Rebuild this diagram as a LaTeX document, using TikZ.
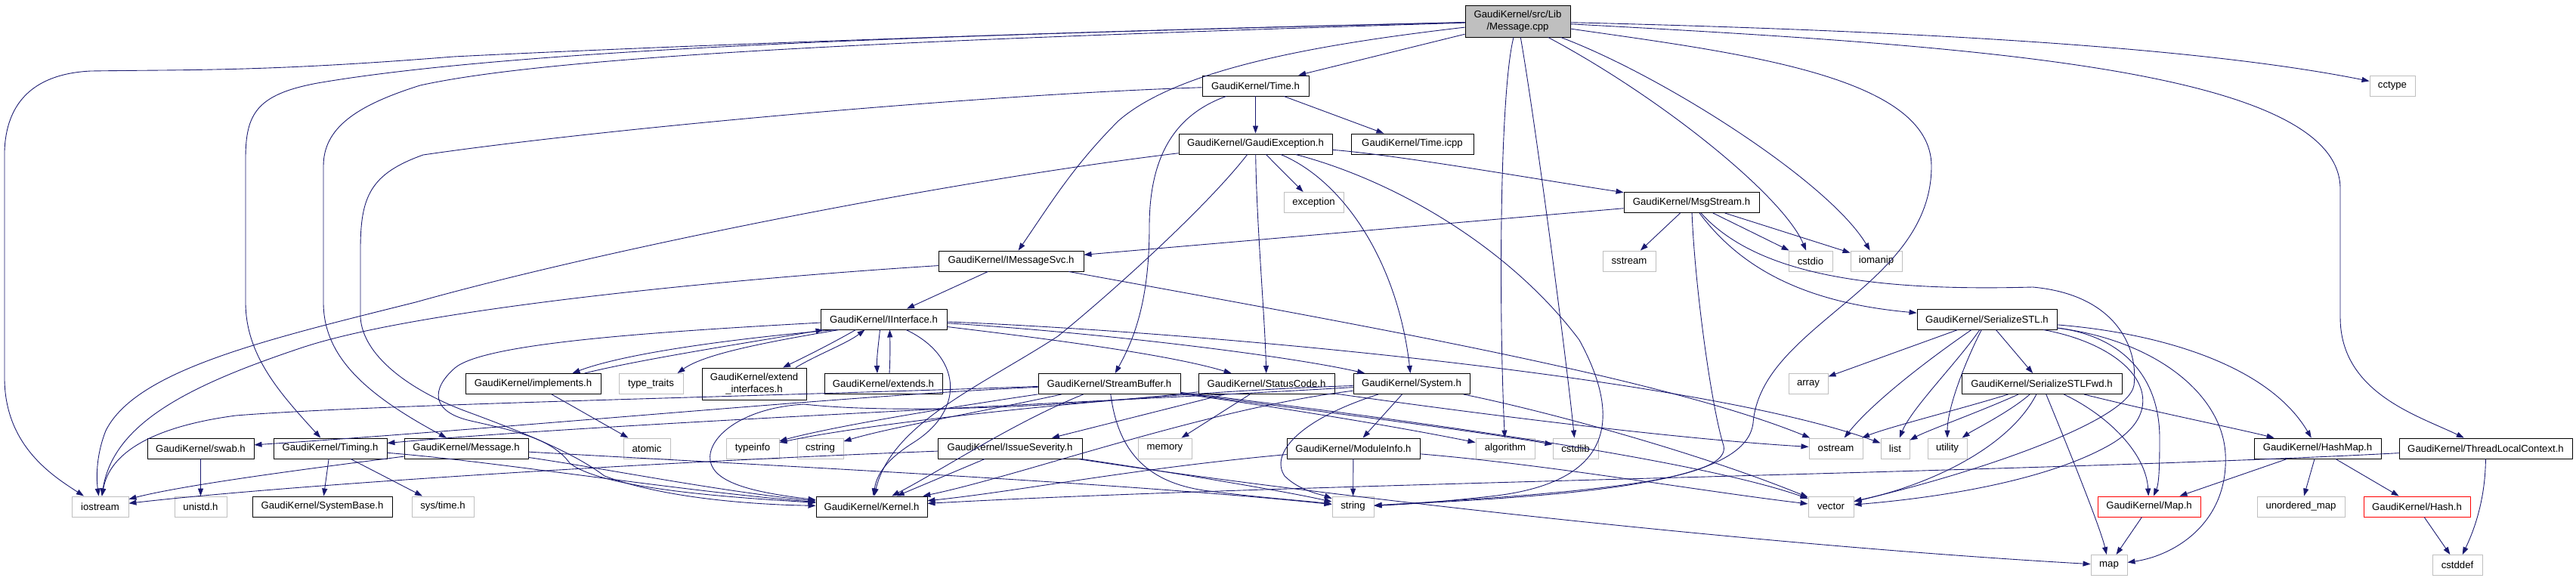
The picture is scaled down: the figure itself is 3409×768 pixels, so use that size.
\documentclass[tikz,border=0pt]{standalone}
\usepackage{fontspec}
\newfontfamily\gfont{Liberation Sans}
\usetikzlibrary{arrows.meta,calc}
\definecolor{edgecol}{RGB}{25,25,112}
\definecolor{graybd}{RGB}{191,191,191}
\definecolor{rootfill}{RGB}{191,191,191}
\begin{document}
\begin{tikzpicture}[x=0.02cm,y=-0.02cm,
  nb/.style={draw=black, line width=0.55pt, fill=white, inner sep=0pt, minimum height=0.54cm,
     font=\gfont\fontsize{7.5}{9}\selectfont, align=center, text=black},
  ng/.style={nb, draw=graybd},
  nr/.style={nb, draw=red},
  nroot/.style={nb, fill=rootfill, minimum height=0.84cm},
  e/.style={draw=edgecol, line width=0.5pt, -{Triangle[length=0.2cm,width=0.14cm]}}]
\useasboundingbox[fill=white] (0,0) rectangle (3409,768);
% ---------------- nodes ----------------
\node[nroot, minimum width=2.78cm] (root) at (2008.5,28) {GaudiKernel/src/Lib\\/Message.cpp};
\node[nb, minimum width=2.82cm] (timeh) at (1661.5,113.5) {GaudiKernel/Time.h};
\node[ng, minimum width=1.2cm] (cctype) at (3166,113.5) {cctype};
\node[nb, minimum width=4.06cm] (gexc) at (1661.5,190.5) {GaudiKernel/GaudiException.h};
\node[nb, minimum width=3.24cm] (ticpp) at (1869,190.5) {GaudiKernel/Time.icpp};
\node[ng, minimum width=1.58cm] (exception) at (1738.5,268) {exception};
\node[nb, minimum width=3.58cm] (msgstream) at (2238.5,268) {GaudiKernel/MsgStream.h};
\node[nb, minimum width=3.84cm] (imsgsvc) at (1338,345.5) {GaudiKernel/IMessageSvc.h};
\node[ng, minimum width=1.4cm] (sstream) at (2156,345.5) {sstream};
\node[ng, minimum width=1.16cm] (cstdio) at (2396,345.5) {cstdio};
\node[ng, minimum width=1.36cm] (iomanip) at (2483,345.5) {iomanip};
\node[nb, minimum width=3.34cm] (iint) at (1169.5,422.5) {GaudiKernel/IInterface.h};
\node[nb, minimum width=3.7cm] (sstl) at (2629.5,422.5) {GaudiKernel/SerializeSTL.h};
\node[nb, minimum width=3.58cm] (impl) at (705.5,508) {GaudiKernel/implements.h};
\node[ng, minimum width=1.7cm] (typetraits) at (861.5,508) {type\_traits};
\node[nb, minimum width=2.76cm, minimum height=0.84cm] (extif) at (998,508) {GaudiKernel/extend\\\_interfaces.h};
\node[nb, minimum width=3.12cm] (extends) at (1169,508) {GaudiKernel/extends.h};
\node[nb, minimum width=3.76cm] (sbuf) at (1468,508) {GaudiKernel/StreamBuffer.h};
\node[nb, minimum width=3.6cm] (scode) at (1676,508) {GaudiKernel/StatusCode.h};
\node[nb, minimum width=3.08cm] (system) at (1868,508) {GaudiKernel/System.h};
\node[ng, minimum width=1.04cm] (array) at (2393,508) {array};
\node[nb, minimum width=4.24cm] (sstlfwd) at (2702,508) {GaudiKernel/SerializeSTLFwd.h};
\node[nb, minimum width=2.82cm] (swab) at (265.5,593.5) {GaudiKernel/swab.h};
\node[nb, minimum width=3.0cm] (timing) at (437,593.5) {GaudiKernel/Timing.h};
\node[nb, minimum width=3.28cm] (message) at (617,593.5) {GaudiKernel/Message.h};
\node[ng, minimum width=1.24cm] (atomic) at (856,593.5) {atomic};
\node[ng, minimum width=1.4cm] (typeinfo) at (996,593.5) {typeinfo};
\node[ng, minimum width=1.22cm] (cstring) at (1085.5,593.5) {cstring};
\node[nb, minimum width=3.82cm] (issue) at (1336.5,593.5) {GaudiKernel/IssueSeverity.h};
\node[ng, minimum width=1.42cm] (memory) at (1541.5,593.5) {memory};
\node[nb, minimum width=3.52cm] (modinfo) at (1791,593.5) {GaudiKernel/ModuleInfo.h};
\node[ng, minimum width=1.56cm] (algorithm) at (1992,593.5) {algorithm};
\node[ng, minimum width=1.2cm] (cstdlib) at (2085,593.5) {cstdlib};
\node[ng, minimum width=1.42cm] (ostream) at (2429.5,593.5) {ostream};
\node[ng, minimum width=0.76cm] (list) at (2508,593.5) {list};
\node[ng, minimum width=1.04cm] (utility) at (2577,593.5) {utility};
\node[nb, minimum width=3.36cm] (hashmap) at (3067,593.5) {GaudiKernel/HashMap.h};
\node[nb, minimum width=4.58cm] (tlc) at (3289.5,593.5) {GaudiKernel/ThreadLocalContext.h};
\node[ng, minimum width=1.5cm] (iostream) at (132.5,670.5) {iostream};
\node[ng, minimum width=1.38cm] (unistd) at (265.5,670.5) {unistd.h};
\node[nb, minimum width=3.7cm] (sysbase) at (426.5,670.5) {GaudiKernel/SystemBase.h};
\node[ng, minimum width=1.64cm] (systime) at (586,670.5) {sys/time.h};
\node[nb, minimum width=2.94cm] (kernel) at (1153.5,670.5) {GaudiKernel/Kernel.h};
\node[ng, minimum width=1.1cm] (string) at (1790.5,670.5) {string};
\node[ng, minimum width=1.2cm] (vector) at (2423,670.5) {vector};
\node[nr, minimum width=2.72cm] (maph) at (2844,670.5) {GaudiKernel/Map.h};
\node[ng, minimum width=2.32cm] (umap) at (3045,670.5) {unordered\_map};
\node[nr, minimum width=2.82cm] (hashh) at (3198.5,670.5) {GaudiKernel/Hash.h};
\node[ng, minimum width=0.96cm] (map) at (2791,748) {map};
\node[ng, minimum width=1.32cm] (cstddef) at (3252,748) {cstddef};
% ---------------- edges ----------------
% root
\draw[e] (root) .. controls (1400,42) and (900,60) .. (600,75) .. controls (350,95) and (250,92) .. (120,94) .. controls (40,98) and (8,140) .. (6,200) -- (6,500) .. controls (6,590) and (70,630) .. (iostream);
\draw[e] (root) .. controls (1300,45) and (700,62) .. (420,110) .. controls (340,125) and (325,150) .. (325,210) -- (325,400) .. controls (325,470) and (370,520) .. (timing);
\draw[e] (root) .. controls (1300,50) and (750,70) .. (556,113) .. controls (470,140) and (428,170) .. (428,220) -- (428,400) .. controls (428,470) and (480,520) .. (message);
\draw[e] (root) .. controls (1750,58) and (1560,90) .. (1480,160) .. controls (1420,220) and (1390,270) .. (imsgsvc);
\draw[e] (root) -- (timeh);
\draw[e] (root) .. controls (1985,120) and (1983,400) .. (algorithm);
\draw[e] (root) .. controls (2030,150) and (2070,450) .. (cstdlib);
\draw[e] (root) .. controls (2200,130) and (2360,260) .. (cstdio);
\draw[e] (root) .. controls (2200,100) and (2420,240) .. (iomanip);
\draw[e] (root) .. controls (2300,70) and (2556,100) .. (2556,220) .. controls (2556,380) and (2330,430) .. (2320,560) .. controls (2310,640) and (2100,655) .. (string);
\draw[e] (root) .. controls (2500,40) and (2900,60) .. (cctype);
\draw[e] (root) .. controls (2600,60) and (3097,90) .. (3097,250) -- (3097,420) .. controls (3097,520) and (3200,550) .. (tlc);
% Time.h
\draw[e] (timeh) -- (gexc);
\draw[e] (timeh) -- (ticpp);
\draw[e] (timeh) .. controls (1300,125) and (800,170) .. (560,205) .. controls (490,230) and (477,260) .. (477,330) -- (477,420) .. controls (480,470) and (540,515) .. (613,543) .. controls (700,575) and (760,600) .. (800,630) .. controls (880,660) and (1000,668) .. (kernel);
\draw[e] (timeh) .. controls (1560,150) and (1521,200) .. (1521,300) .. controls (1521,400) and (1500,450) .. (sbuf);
% GaudiException.h
\draw[e] (gexc) .. controls (1250,240) and (800,330) .. (550,400) .. controls (350,450) and (180,490) .. (140,570) .. controls (128,600) and (127,630) .. (iostream);
\draw[e] (gexc) -- (exception);
\draw[e] (gexc) .. controls (1663,300) and (1674,420) .. (scode);
\draw[e] (gexc) .. controls (1780,240) and (1850,350) .. (system);
\draw[e] (gexc) .. controls (1850,240) and (2000,330) .. (2090,450) .. controls (2150,560) and (2130,640) .. (1972,657) .. controls (1900,665) and (1850,668) .. (string);
\draw[e] (gexc) .. controls (1850,205) and (2050,240) .. (msgstream);
\draw[e] (gexc) .. controls (1600,270) and (1480,380) .. (1400,445) .. controls (1300,510) and (1180,560) .. (kernel);
% MsgStream.h
\draw[e] (msgstream) -- (imsgsvc);
\draw[e] (msgstream) -- (sstream);
\draw[e] (msgstream) -- (cstdio);
\draw[e] (msgstream) -- (iomanip);
\draw[e] (msgstream) .. controls (2243,380) and (2265,540) .. (2281,590) .. controls (2290,630) and (2150,650) .. (string);
\draw[e] (msgstream) .. controls (2300,350) and (2380,400) .. (sstl);
\draw[e] (msgstream) .. controls (2330,370) and (2500,385) .. (2690,380) .. controls (2800,390) and (2830,460) .. (2824,510) .. controls (2815,560) and (2600,630) .. (vector);
% IMessageSvc.h
\draw[e] (imsgsvc) -- (iint);
\draw[e] (imsgsvc) .. controls (950,370) and (550,410) .. (400,460) .. controls (250,510) and (150,560) .. (iostream);
\draw[e] (imsgsvc) .. controls (1800,430) and (2200,500) .. (ostream);
% IInterface.h
\draw[e] ($(iint.south west)+(20,0)$) .. controls (950,450) and (820,470) .. ($(impl.north)+(52,0)$);
\draw[e] ($(impl.north)+(68,0)$) .. controls (850,475) and (1000,452) .. ($(iint.south west)+(4,0)$);
\draw[e] ($(iint.south west)+(25,0)$) .. controls (1000,455) and (930,470) .. ($(typetraits.north)+(35,0)$);
\draw[e] ($(iint.south)+(-37,0)$) .. controls (1100,455) and (1070,470) .. ($(extif.north)+(38,0)$);
\draw[e] ($(extif.north)+(55,0)$) .. controls (1080,470) and (1120,455) .. ($(iint.south)+(-25,0)$);
\draw[e] ($(iint.south)+(-5,0)$) .. controls (1162,460) and (1160,475) .. ($(extends.north)+(-8,0)$);
\draw[e] ($(extends.north)+(8,0)$) .. controls (1178,475) and (1178,460) .. ($(iint.south)+(8,0)$);
\draw[e] (iint) .. controls (1270,470) and (1280,540) .. (1210,585) .. controls (1170,610) and (1160,630) .. (kernel);
\draw[e] (iint) .. controls (850,440) and (640,455) .. (602,487) .. controls (570,515) and (570,545) .. (623,557) .. controls (680,570) and (730,580) .. (754,613) .. controls (800,650) and (1000,660) .. (kernel);
\draw[e] (iint) .. controls (1400,450) and (1550,470) .. (scode);
\draw[e] (iint) .. controls (1450,440) and (1700,470) .. (system);
\draw[e] (iint) .. controls (1600,440) and (2250,500) .. (list);
% StreamBuffer.h
\draw[e] (sbuf) .. controls (1100,525) and (700,565) .. (swab);
\draw[e] (sbuf) .. controls (1000,525) and (500,535) .. (312,550) .. controls (200,565) and (145,600) .. (iostream);
\draw[e] (sbuf) .. controls (1250,540) and (1100,565) .. (typeinfo);
\draw[e] (sbuf) .. controls (1300,545) and (1180,565) .. (cstring);
\draw[e] (sbuf) .. controls (1480,600) and (1520,640) .. (1600,650) .. controls (1680,660) and (1720,662) .. (string);
\draw[e] (sbuf) .. controls (1700,540) and (1850,565) .. (algorithm);
\draw[e] (sbuf) .. controls (1750,545) and (1950,570) .. (cstdlib);
\draw[e] (sbuf) .. controls (1900,560) and (2250,610) .. (vector);
\draw[e] (sbuf) .. controls (1340,560) and (1250,620) .. (kernel);
% StatusCode.h
\draw[e] (scode) -- (issue);
\draw[e] (scode) -- (memory);
\draw[e] (scode) .. controls (1900,540) and (2200,580) .. (ostream);
\draw[e] (scode) .. controls (1450,535) and (1200,550) .. (1064,535) .. controls (980,540) and (935,580) .. (940,610) .. controls (945,640) and (1000,652) .. (kernel);
% System.h
\draw[e] (system) .. controls (1500,530) and (800,560) .. (timing);
\draw[e] (system) .. controls (1600,540) and (1350,630) .. (kernel);
\draw[e] (system) .. controls (1500,520) and (1150,560) .. (typeinfo);
\draw[e] (system) -- (modinfo);
\draw[e] (system) .. controls (1720,555) and (1680,600) .. (1700,630) .. controls (1720,650) and (1750,655) .. (string);
\draw[e] (system) .. controls (2050,545) and (2250,600) .. (vector);
% ModuleInfo.h
\draw[e] (modinfo) -- (string);
\draw[e] (modinfo) .. controls (1500,620) and (1350,650) .. (kernel);
\draw[e] (modinfo) .. controls (2050,615) and (2250,650) .. (vector);
% IssueSeverity.h
\draw[e] (issue) -- (kernel);
\draw[e] (issue) .. controls (1550,625) and (1700,650) .. (string);
\draw[e] (issue) .. controls (1700,650) and (2300,720) .. (map);
\draw[e] (issue) .. controls (900,610) and (400,640) .. (iostream);
% Message.h
\draw[e] (message) .. controls (800,620) and (950,650) .. (kernel);
\draw[e] (message) .. controls (1000,615) and (1500,640) .. (string);
\draw[e] (message) .. controls (450,615) and (250,640) .. (iostream);
% Timing.h, swab.h, implements.h
\draw[e] (timing) -- (sysbase);
\draw[e] (timing) -- (systime);
\draw[e] (timing) .. controls (650,610) and (900,650) .. (kernel);
\draw[e] (swab) -- (unistd);
\draw[e] (impl) -- (atomic);
% SerializeSTL.h
\draw[e] (sstl) -- (array);
\draw[e] (sstl) .. controls (2560,470) and (2480,530) .. (ostream);
\draw[e] (sstl) .. controls (2590,480) and (2530,540) .. (list);
\draw[e] (sstl) .. controls (2600,480) and (2577,540) .. (utility);
\draw[e] (sstl) -- (sstlfwd);
\draw[e] (sstl) .. controls (2830,460) and (2880,540) .. (2790,590) .. controls (2700,640) and (2550,660) .. (vector);
\draw[e] (sstl) .. controls (2810,445) and (2858,500) .. (2858,580) .. controls (2858,620) and (2857,640) .. (maph);
\draw[e] (sstl) .. controls (2850,440) and (3000,480) .. (hashmap);
\draw[e] (sstl) .. controls (2850,450) and (2940,520) .. (2945,600) .. controls (2950,690) and (2880,735) .. (map);
% SerializeSTLFwd.h
\draw[e] (sstlfwd) .. controls (2600,540) and (2500,565) .. (ostream);
\draw[e] (sstlfwd) .. controls (2620,545) and (2550,570) .. (list);
\draw[e] (sstlfwd) .. controls (2660,545) and (2610,570) .. (utility);
\draw[e] (sstlfwd) .. controls (2660,590) and (2560,640) .. (vector);
\draw[e] (sstlfwd) .. controls (2740,600) and (2780,700) .. (map);
\draw[e] (sstlfwd) .. controls (2790,550) and (2840,600) .. (maph);
\draw[e] (sstlfwd) .. controls (2850,545) and (2950,565) .. (hashmap);
% HashMap.h, Map.h, Hash.h, ThreadLocalContext.h
\draw[e] (hashmap) -- (maph);
\draw[e] (hashmap) -- (umap);
\draw[e] (hashmap) -- (hashh);
\draw[e] (maph) -- (map);
\draw[e] (hashh) -- (cstddef);
\draw[e] (tlc) .. controls (3289,660) and (3275,700) .. (cstddef);
\draw[e] (tlc) .. controls (2700,625) and (1700,640) .. (kernel);
\end{tikzpicture}
\end{document}
